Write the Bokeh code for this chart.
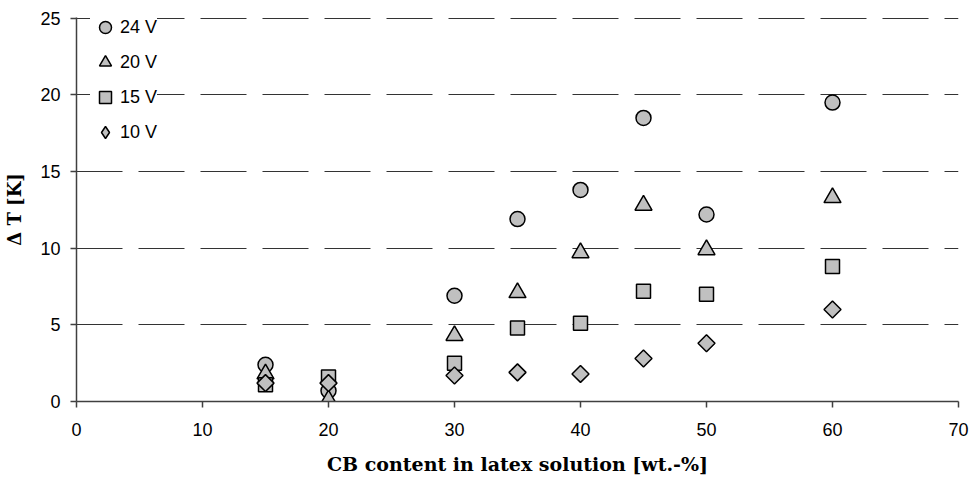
import math
from bokeh.plotting import figure
from bokeh.models import Legend, LegendItem, FixedTicker, Range1d
from bokeh.embed import file_html
from bokeh.resources import INLINE

cb_content = [15, 20, 30, 35, 40, 45, 50, 60]
dT_24V = [2.4, 0.7, 6.9, 11.9, 13.8, 18.5, 12.2, 19.5]
dT_20V = [1.8, 0.1, 4.3, 7.1, 9.7, 12.8, 9.9, 13.3]
dT_15V = [1.1, 1.6, 2.5, 4.8, 5.1, 7.2, 7.0, 8.8]
dT_10V = [1.2, 1.2, 1.7, 1.9, 1.8, 2.8, 3.8, 6.0]
x_ticks = [0, 10, 20, 30, 40, 50, 60, 70]
y_ticks = [0, 5, 10, 15, 20, 25]

p = figure(width=970, height=479, output_backend="svg", toolbar_location=None,
           x_range=Range1d(0, 70), y_range=Range1d(0, 25.05),
           min_border_left=76, min_border_right=12, min_border_top=17, min_border_bottom=78)
p.outline_line_color = None
p.background_fill_color = "white"
p.border_fill_color = "white"

for ax in (p.xaxis[0], p.yaxis[0]):
    ax.axis_line_color = "#404040"
    ax.axis_line_width = 1.5
    ax.major_tick_line_color = "#404040"
    ax.major_tick_line_width = 1.5
    ax.major_tick_out = 6
    ax.major_tick_in = 0
    ax.minor_tick_line_color = None
    ax.major_label_text_font = "Liberation Sans"
    ax.major_label_text_font_size = "18px"
    ax.major_label_text_color = "black"
    ax.axis_label_text_font = "DejaVu Serif"
    ax.axis_label_text_font_style = "bold"
    ax.axis_label_text_color = "black"

p.xaxis.axis_label_text_font_size = "19px"
p.yaxis.axis_label_text_font_size = "18px"
p.xaxis.ticker = FixedTicker(ticks=x_ticks)
p.yaxis.ticker = FixedTicker(ticks=y_ticks)
p.xaxis.major_label_standoff = 15
p.yaxis.major_label_standoff = 10
p.xaxis.axis_label = "CB content in latex solution [wt.-%]"
p.yaxis.axis_label = "Δ T [K]"
p.xaxis.axis_label_standoff = 14
p.yaxis.axis_label_standoff = 12

p.xgrid.grid_line_color = None
p.ygrid.grid_line_color = "#333333"
p.ygrid.grid_line_width = 1.2
p.ygrid.grid_line_dash = "46 16"

kw = dict(fill_color="#c0c0c0", line_color="black", line_width=1.5)
r24 = p.scatter(cb_content, dT_24V, marker="circle", size=15, **kw)
r20 = p.scatter(cb_content, dT_20V, marker="triangle", size=17, **kw)
r15 = p.scatter(cb_content, dT_15V, marker="square", size=14, **kw)
r10 = p.scatter(cb_content, dT_10V, marker="square", size=12, angle=math.pi / 4, **kw)
# legend-only proxy (legend glyphs ignore the rotation angle); its point is not drawn
r10_key = p.scatter(x=[float("nan")], y=[float("nan")], marker="diamond", size=12, **kw)

legend = Legend(items=[LegendItem(label="24 V", renderers=[r24]),
                       LegendItem(label="20 V", renderers=[r20]),
                       LegendItem(label="15 V", renderers=[r15]),
                       LegendItem(label="10 V", renderers=[r10_key])],
                location=(14, 254), padding=4, margin=0, spacing=5,
                glyph_width=30, glyph_height=30, label_height=30, label_standoff=0,
                label_text_font="Liberation Sans", label_text_font_size="18px",
                label_text_color="black",
                background_fill_color="white", background_fill_alpha=1,
                border_line_color=None)
p.add_layout(legend, "center")

open("out.html", "w").write(file_html(p, INLINE))
